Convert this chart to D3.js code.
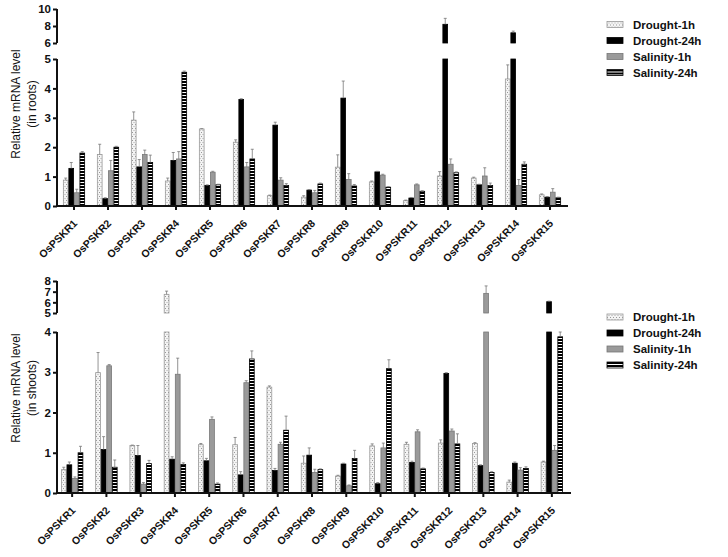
<!DOCTYPE html>
<html lang="en">
<head>
  <meta charset="utf-8">
  <script src="https://d3js.org/d3.v7.min.js"></script>
  <style>
    body { margin: 0; background: #fff; }
    text { font-family: "Liberation Sans", Arial, sans-serif; fill: #111; }
  </style>
</head>
<body>
<script>
  // categories and series
  var genes = ["OsPSKR1", "OsPSKR2", "OsPSKR3", "OsPSKR4", "OsPSKR5",
    "OsPSKR6", "OsPSKR7", "OsPSKR8", "OsPSKR9", "OsPSKR10", "OsPSKR11",
    "OsPSKR12", "OsPSKR13", "OsPSKR14", "OsPSKR15"];
  var series = ["Drought-1h", "Drought-24h", "Salinity-1h", "Salinity-24h"];

  // roots (top chart)
  var rootsDrought1h = [0.88, 1.75, 2.92, 0.85, 2.62, 2.17, 0.35, 0.3, 1.32, 0.82, 0.18, 1.02, 0.95, 4.32, 0.38];
  var rootsDrought24h = [1.28, 0.25, 1.33, 1.55, 0.7, 3.62, 2.75, 0.54, 3.67, 1.16, 0.27, 8.2, 0.72, 7.2, 0.3];
  var rootsSalinity1h = [0.45, 1.2, 1.75, 1.6, 1.15, 1.33, 0.88, 0.45, 0.9, 1.05, 0.72, 1.42, 1.02, 0.7, 0.47];
  var rootsSalinity24h = [1.8, 2.0, 1.48, 4.55, 0.72, 1.6, 0.7, 0.75, 0.68, 0.64, 0.5, 1.13, 0.7, 1.42, 0.28];
  var rootsDrought1hErr = [0.07, 0.35, 0.28, 0.1, 0.01, 0.08, 0.02, 0.05, 0.42, 0.03, 0.02, 0.15, 0.03, 0.48, 0.03];
  var rootsDrought24hErr = [0.2, 0.03, 0.25, 0.27, 0.02, 0.03, 0.1, 0.02, 0.58, 0.02, 0.02, 0.7, 0.02, 0.2, 0.02];
  var rootsSalinity1hErr = [0.12, 0.35, 0.15, 0.25, 0.03, 0.15, 0.08, 0.08, 0.2, 0.03, 0.03, 0.18, 0.28, 0.2, 0.12];
  var rootsSalinity24hErr = [0.05, 0.03, 0.25, 0.04, 0.02, 0.33, 0.06, 0.03, 0.05, 0.02, 0.02, 0.03, 0.08, 0.08, 0.02];
  var rootsLowTicks = [0, 1, 2, 3, 4, 5];
  var rootsHighTicks = [6, 8, 10];

  // shoots (bottom chart)
  var shootsDrought1h = [0.58, 2.99, 1.18, 6.75, 1.2, 1.2, 2.63, 0.74, 0.42, 1.17, 1.21, 1.24, 1.23, 0.27, 0.77];
  var shootsDrought24h = [0.7, 1.08, 0.93, 0.84, 0.8, 0.45, 0.56, 0.94, 0.72, 0.23, 0.76, 2.97, 0.68, 0.74, 6.06];
  var shootsSalinity1h = [0.36, 3.16, 0.22, 2.95, 1.83, 2.74, 1.21, 0.51, 0.18, 1.12, 1.52, 1.54, 6.84, 0.57, 1.06];
  var shootsSalinity24h = [1.0, 0.64, 0.73, 0.71, 0.22, 3.33, 1.56, 0.58, 0.86, 3.09, 0.6, 1.22, 0.51, 0.61, 3.88];
  var shootsDrought1hErr = [0.06, 0.5, 0.01, 0.3, 0.03, 0.18, 0.03, 0.18, 0.02, 0.05, 0.05, 0.08, 0.02, 0.05, 0.02];
  var shootsDrought24hErr = [0.07, 0.32, 0.25, 0.06, 0.06, 0.08, 0.05, 0.18, 0.02, 0.03, 0.03, 0.02, 0.02, 0.03, 0.05];
  var shootsSalinity1hErr = [0.04, 0.03, 0.04, 0.4, 0.06, 0.05, 0.05, 0.08, 0.02, 0.12, 0.05, 0.05, 0.7, 0.06, 0.12];
  var shootsSalinity24hErr = [0.16, 0.18, 0.08, 0.04, 0.03, 0.2, 0.35, 0.02, 0.2, 0.22, 0.02, 0.25, 0.02, 0.04, 0.12];
  var shootsLowTicks = [0, 1, 2, 3, 4];
  var shootsHighTicks = [5, 6, 7, 8];

  // layout of the two charts
  var panels = [
    {
      id: "roots", label: "(in roots)",
      values: [rootsDrought1h, rootsDrought24h, rootsSalinity1h, rootsSalinity24h],
      errors: [rootsDrought1hErr, rootsDrought24hErr, rootsSalinity1hErr, rootsSalinity24hErr],
      lowTicks: rootsLowTicks, highTicks: rootsHighTicks,
      xRange: [57, 567], axisEnd: 568,
      yZero: 206, yLowTop: 59, yHighBottom: 43, yHighTop: 9,
      titleY: 104, legendY: 24.5
    },
    {
      id: "shoots", label: "(in shoots)",
      values: [shootsDrought1h, shootsDrought24h, shootsSalinity1h, shootsSalinity24h],
      errors: [shootsDrought1hErr, shootsDrought24hErr, shootsSalinity1hErr, shootsSalinity24hErr],
      lowTicks: shootsLowTicks, highTicks: shootsHighTicks,
      xRange: [55, 569], axisEnd: 571,
      yZero: 493, yLowTop: 332, yHighBottom: 313, yHighTop: 281,
      titleY: 388, legendY: 317
    }
  ];

  var svg = d3.select("body")
    .append("svg")
    .attr("width", 728)
    .attr("height", 557);

  // fill patterns
  var defs = svg.append("defs");
  var dots = defs.append("pattern")
    .attr("id", "dots")
    .attr("patternUnits", "userSpaceOnUse")
    .attr("width", 3).attr("height", 4);
  dots.append("rect").attr("width", 3).attr("height", 4).attr("fill", "#f4f4f4");
  dots.append("rect").attr("x", 0).attr("y", 0).attr("width", 1).attr("height", 1).attr("fill", "#999");
  dots.append("rect").attr("x", 1.5).attr("y", 2).attr("width", 1).attr("height", 1).attr("fill", "#aaa");

  var stripes = defs.append("pattern")
    .attr("id", "stripes")
    .attr("patternUnits", "userSpaceOnUse")
    .attr("width", 4).attr("height", 3);
  stripes.append("rect").attr("width", 4).attr("height", 3).attr("fill", "#000");
  stripes.append("rect").attr("y", 2).attr("width", 4).attr("height", 1).attr("fill", "#fff");

  var fills = ["url(#dots)", "#000", "#9a9a9a", "url(#stripes)"];
  var strokes = ["#999", "#000", "#777", "#000"];

  panels.forEach(drawPanel);

  function drawPanel(p) {
    var g = svg.append("g").attr("class", p.id);
    var lowMax = p.lowTicks[p.lowTicks.length - 1];
    var highMin = p.highTicks[0];

    var x = d3.scaleBand()
      .domain(genes)
      .range(p.xRange)
      .paddingInner(0.35)
      .paddingOuter(0.175);
    var xSub = d3.scaleBand()
      .domain(series)
      .range([0, x.bandwidth()]);
    var yLow = d3.scaleLinear()
      .domain([0, lowMax])
      .range([p.yZero, p.yLowTop]);
    var yHigh = d3.scaleLinear()
      .domain([highMin, p.highTicks[p.highTicks.length - 1]])
      .range([p.yHighBottom, p.yHighTop]);

    function yOf(v) {
      return v <= lowMax ? yLow(v) : yHigh(v);
    }

    // bars, split in two pieces when they cross the break
    series.forEach(function(s, si) {
      var rows = genes.map(function(gene, i) {
        return { gene: gene, v: p.values[si][i], e: p.errors[si][i] };
      });
      var sg = g.append("g");
      var pieces = [];
      rows.forEach(function(r) {
        pieces.push({ gene: r.gene, from: 0, to: Math.min(r.v, lowMax), scale: yLow });
        if (r.v > lowMax) {
          pieces.push({ gene: r.gene, from: highMin, to: r.v, scale: yHigh });
        }
      });

      sg.selectAll("rect")
        .data(pieces)
        .enter()
        .append("rect")
        .attr("x", function(d) { return x(d.gene) + xSub(s) + 0.4; })
        .attr("width", xSub.bandwidth() - 0.8)
        .attr("y", function(d) { return d.scale(d.to); })
        .attr("height", function(d) { return d.scale(d.from) - d.scale(d.to); })
        .attr("fill", fills[si])
        .attr("stroke", strokes[si])
        .attr("stroke-width", 0.8);

      // error bars (upper half only)
      var cx = function(d) { return x(d.gene) + xSub(s) + xSub.bandwidth() / 2; };
      var err = sg.selectAll("g.err")
        .data(rows)
        .enter()
        .append("g")
        .attr("class", "err")
        .attr("stroke", "#777")
        .attr("stroke-width", 0.8);
      err.append("line")
        .attr("x1", cx)
        .attr("x2", cx)
        .attr("y1", function(d) { return yOf(d.v); })
        .attr("y2", function(d) { return yOf(d.v + d.e); });
      err.append("line")
        .attr("x1", function(d) { return cx(d) - 1.5; })
        .attr("x2", function(d) { return cx(d) + 1.5; })
        .attr("y1", function(d) { return yOf(d.v + d.e); })
        .attr("y2", function(d) { return yOf(d.v + d.e); });
    });

    // y axes (lower and upper segment)
    var axisLow = d3.axisLeft(yLow).tickValues(p.lowTicks).tickSize(4).tickPadding(2)
      .tickFormat(d3.format("d"));
    var axisHigh = d3.axisLeft(yHigh).tickValues(p.highTicks).tickSize(4).tickPadding(2)
      .tickFormat(d3.format("d"));
    [axisLow, axisHigh].forEach(function(a) {
      var ag = g.append("g")
        .attr("transform", "translate(57,0)")
        .call(a);
      ag.select(".domain").remove();
      ag.selectAll("line").attr("stroke", "#111").attr("stroke-width", 2);
      ag.selectAll("text")
        .style("font-size", "11.5px")
        .style("font-weight", "bold")
        .style("font-family", "'Liberation Sans', Arial, sans-serif");
    });
    g.append("line")
      .attr("x1", 57).attr("x2", 57)
      .attr("y1", yLow(0) + 1).attr("y2", yLow(lowMax))
      .attr("stroke", "#111").attr("stroke-width", 2);
    g.append("line")
      .attr("x1", 57).attr("x2", 57)
      .attr("y1", yHigh(highMin)).attr("y2", yHigh.range()[1])
      .attr("stroke", "#111").attr("stroke-width", 2);

    // x axis
    var xAxis = d3.axisBottom(x).tickSize(4).tickFormat("");
    var xg = g.append("g")
      .attr("transform", "translate(0," + p.yZero + ")")
      .call(xAxis);
    xg.select(".domain").remove();
    xg.selectAll("line").attr("stroke", "#111").attr("stroke-width", 2);
    g.append("line")
      .attr("x1", 56).attr("x2", p.axisEnd)
      .attr("y1", p.yZero).attr("y2", p.yZero)
      .attr("stroke", "#111").attr("stroke-width", 2);

    g.selectAll("text.gene")
      .data(genes)
      .enter()
      .append("text")
      .attr("class", "gene")
      .attr("text-anchor", "end")
      .attr("transform", function(d) {
        return "translate(" + (x(d) + x.bandwidth() / 2 + 4) + "," + (p.yZero + 18) + ") rotate(-45)";
      })
      .style("font-size", "10.5px")
      .style("font-weight", "bold")
      .text(function(d) { return d; });

    // y title
    var title = g.append("text")
      .attr("transform", "translate(16," + p.titleY + ") rotate(-90)")
      .attr("text-anchor", "middle")
      .style("font-size", "12px");
    title.append("tspan").attr("x", 0).attr("dy", "0.35em").text("Relative mRNA level");
    title.append("tspan").attr("x", 0).attr("dy", "1.3em").text(p.label);

    // legend
    var legend = g.selectAll("g.legend")
      .data(series)
      .enter()
      .append("g")
      .attr("class", "legend")
      .attr("transform", function(d, i) {
        return "translate(607," + (p.legendY + i * 16) + ")";
      });
    legend.append("rect")
      .attr("x", 0).attr("y", -3)
      .attr("width", 16).attr("height", 6)
      .attr("fill", function(d, i) { return fills[i]; })
      .attr("stroke", function(d, i) { return strokes[i]; })
      .attr("stroke-width", 0.8);
    legend.append("text")
      .attr("x", 26)
      .attr("dy", "0.35em")
      .style("font-size", "11.5px")
      .style("font-weight", "bold")
      .text(function(d) { return d; });
  }
</script>
</body>
</html>
